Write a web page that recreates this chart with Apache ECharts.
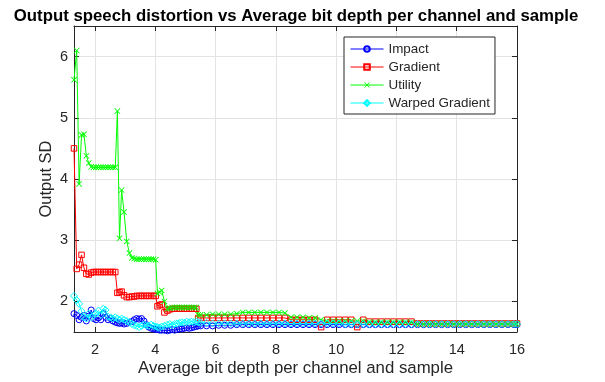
<!DOCTYPE html>
<html>
<head>
<meta charset="utf-8">
<script src="https://cdn.jsdelivr.net/npm/echarts@6/dist/echarts.min.js"></script>
<style>html,body{margin:0;padding:0;background:#fff}#c{width:605px;height:382px}</style>
</head>
<body>
<div id="c"></div>
<script>
var xValues = [
  1.30, 1.39, 1.47, 1.55, 1.63, 1.71, 1.79, 1.87, 1.95, 2.03,
  2.11, 2.19, 2.27, 2.35, 2.43, 2.51, 2.59, 2.67, 2.74, 2.81,
  2.88, 2.96, 3.05, 3.14, 3.22, 3.30, 3.38, 3.46, 3.54, 3.62,
  3.70, 3.78, 3.86, 3.94, 4.01, 4.07, 4.14, 4.21, 4.30, 4.40,
  4.48, 4.56, 4.64, 4.72, 4.80, 4.88, 4.96, 5.04, 5.12, 5.20,
  5.28, 5.36, 5.42, 5.50,
  5.7, 5.9, 6.1, 6.3, 6.5, 6.7, 6.9, 7.1, 7.3, 7.5,
  7.7, 7.9, 8.1, 8.3, 8.5, 8.7, 8.9, 9.1, 9.3, 9.5,
  9.7, 9.9, 10.1, 10.3, 10.5, 10.7, 10.9, 11.1, 11.3, 11.5,
  11.7, 11.9, 12.1, 12.3, 12.5, 12.7, 12.9, 13.1, 13.3, 13.5,
  13.7, 13.9, 14.1, 14.3, 14.5, 14.7, 14.9, 15.1, 15.3, 15.5,
  15.7, 15.9, 16.0
];
var impact = [
  1.80, 1.77, 1.70, 1.74, 1.77, 1.68, 1.76, 1.86, 1.72, 1.70,
  1.73, 1.70, 1.80, 1.74, 1.70, 1.72, 1.68, 1.66, 1.65, 1.64,
  1.65, 1.63, 1.64, 1.66, 1.67, 1.70, 1.72, 1.71, 1.72, 1.68,
  1.62, 1.58, 1.56, 1.55, 1.54, 1.54, 1.53, 1.53, 1.53, 1.52,
  1.53, 1.54, 1.53, 1.54, 1.55, 1.55, 1.56, 1.57, 1.56, 1.57,
  1.58, 1.59, 1.60, 1.60,
  1.60, 1.60, 1.61, 1.61, 1.61, 1.62, 1.62, 1.62, 1.62, 1.62,
  1.62, 1.62, 1.62, 1.62, 1.62, 1.62, 1.62, 1.62, 1.62, 1.62,
  1.62, 1.62, 1.62, 1.62, 1.62, 1.62, 1.62, 1.62, 1.62, 1.62,
  1.62, 1.62, 1.62, 1.62, 1.62, 1.62, 1.62, 1.62, 1.62, 1.62,
  1.62, 1.62, 1.62, 1.62, 1.62, 1.62, 1.62, 1.62, 1.62, 1.62,
  1.62, 1.62, 1.62
];
var gradient = [
  4.50, 2.53, 2.60, 2.76, 2.55, 2.45, 2.44, 2.47, 2.48, 2.48,
  2.48, 2.48, 2.48, 2.48, 2.48, 2.48, 2.48, 2.48, 2.14, 2.15,
  2.16, 2.10, 2.07, 2.07, 2.08, 2.08, 2.09, 2.09, 2.09, 2.09,
  2.09, 2.09, 2.09, 2.09, 2.09, 1.92, 1.94, 1.95, 1.82, 1.85,
  1.87, 1.88, 1.88, 1.88, 1.88, 1.88, 1.88, 1.88, 1.88, 1.88,
  1.88, 1.88, 1.73, 1.73,
  1.73, 1.73, 1.73, 1.73, 1.73, 1.73, 1.73, 1.73, 1.73, 1.73,
  1.73, 1.73, 1.73, 1.73, 1.70, 1.70, 1.70, 1.70, 1.70, 1.58,
  1.70, 1.70, 1.70, 1.70, 1.70, 1.58, 1.70, 1.67, 1.67, 1.67,
  1.67, 1.67, 1.67, 1.67, 1.67, 1.64, 1.64, 1.64, 1.64, 1.64,
  1.64, 1.64, 1.64, 1.64, 1.64, 1.64, 1.64, 1.64, 1.64, 1.64,
  1.64, 1.64, 1.64
];
var utility = [
  5.62, 6.10, 3.92, 4.72, 4.73, 4.38, 4.26, 4.20, 4.19, 4.19,
  4.19, 4.19, 4.19, 4.19, 4.19, 4.19, 4.19, 4.19, 5.11, 3.03,
  3.82, 3.46, 2.98, 2.79, 2.71, 2.70, 2.69, 2.69, 2.69, 2.69,
  2.69, 2.69, 2.69, 2.69, 2.68, 2.13, 2.15, 2.18, 2.00, 1.88,
  1.89, 1.90, 1.90, 1.90, 1.90, 1.90, 1.90, 1.90, 1.90, 1.90,
  1.90, 1.90, 1.78, 1.78,
  1.78, 1.79, 1.79, 1.79, 1.79, 1.80, 1.82, 1.82, 1.82, 1.82,
  1.82, 1.82, 1.82, 1.81, 1.74, 1.74, 1.74, 1.73, 1.73, 1.70,
  1.68, 1.68, 1.68, 1.68, 1.68, 1.68, 1.68, 1.66, 1.66, 1.66,
  1.66, 1.66, 1.66, 1.66, 1.66, 1.63, 1.63, 1.63, 1.63, 1.63,
  1.63, 1.63, 1.63, 1.63, 1.63, 1.63, 1.63, 1.63, 1.63, 1.63,
  1.63, 1.63, 1.63
];
var warpedGradient = [
  2.09, 2.02, 1.96, 1.84, 1.74, 1.72, 1.80, 1.74, 1.77, 1.80,
  1.85, 1.78, 1.88, 1.86, 1.75, 1.74, 1.72, 1.74, 1.72, 1.70,
  1.72, 1.70, 1.68, 1.66, 1.63, 1.61, 1.60, 1.58, 1.60, 1.62,
  1.61, 1.60, 1.62, 1.60, 1.59, 1.58, 1.57, 1.59, 1.60, 1.62,
  1.63, 1.61, 1.63, 1.64, 1.65, 1.66, 1.65, 1.67, 1.66, 1.67,
  1.66, 1.67, 1.66, 1.65,
  1.65, 1.64, 1.64, 1.64, 1.64, 1.64, 1.64, 1.64, 1.64, 1.64,
  1.64, 1.64, 1.64, 1.64, 1.64, 1.64, 1.64, 1.64, 1.64, 1.64,
  1.64, 1.64, 1.64, 1.63, 1.63, 1.63, 1.63, 1.63, 1.63, 1.63,
  1.63, 1.63, 1.63, 1.63, 1.63, 1.63, 1.63, 1.63, 1.63, 1.63,
  1.63, 1.63, 1.63, 1.63, 1.63, 1.63, 1.63, 1.63, 1.63, 1.63,
  1.63, 1.63, 1.63
];
var seriesNames = ['Impact', 'Gradient', 'Utility', 'Warped Gradient'];
var titleText = 'Output speech distortion vs Average bit depth per channel and sample';
var xName = 'Average bit depth per channel and sample';
var yName = 'Output SD';

function pairs(ys) { return xValues.map(function (x, i) { return [x, ys[i]]; }); }

var FONT = '"Liberation Sans", Arial, Helvetica, sans-serif';
var AX = '#262626';
var crossPath = 'path://M0,1L1,0L5,4L9,0L10,1L6,5L10,9L9,10L5,6L1,10L0,9L4,5Z';

var chart = echarts.init(document.getElementById('c'), null, {renderer: 'canvas'});
function mkSeries(name, ys, color, symbol, size, hollow) {
  return {
    name: name, type: 'line', data: pairs(ys),
    symbol: symbol, symbolSize: size,
    lineStyle: {color: color, width: 1},
    itemStyle: hollow ? {color: 'rgba(255,255,255,0)', borderColor: color, borderWidth: 1}
                      : {color: color, borderWidth: 0},
    animation: false, z: 3,
    emphasis: {disabled: true}
  };
}
chart.setOption({
  animation: false,
  backgroundColor: '#fff',
  textStyle: {fontFamily: FONT},
  title: {
    text: titleText, left: 291, top: 3, textAlign: 'center',
    textStyle: {fontFamily: FONT, fontSize: 16.8, fontWeight: 'bold', color: '#000'}
  },
  grid: {left: 74, top: 26, right: 88, bottom: 50, containLabel: false},
  legend: {
    orient: 'vertical', left: 344, top: 37,
    itemWidth: 33, itemHeight: 7, itemGap: 4,
    padding: [5, 5, 4, 6],
    backgroundColor: '#fff', borderColor: AX, borderWidth: 1,
    lineStyle: {width: 1},
    textStyle: {fontFamily: FONT, fontSize: 13.4, color: AX, lineHeight: 14},
    data: seriesNames
  },
  xAxis: [{
    type: 'value', min: 1.3, max: 16, splitNumber: 7,
    name: xName, nameLocation: 'middle', nameGap: 28, nameMoveOverlap: false,
    nameTextStyle: {fontFamily: FONT, fontSize: 16.8, color: AX},
    axisLine: {show: true, onZero: false, lineStyle: {color: AX, width: 1}},
    axisTick: {show: true, inside: true, length: 5, lineStyle: {color: AX}},
    axisLabel: {fontFamily: FONT, fontSize: 14.5, color: AX, margin: 10, showMinLabel: false},
    splitLine: {show: true, lineStyle: {color: '#e3e3e3', width: 1}}
  }, {
    type: 'value', min: 1.3, max: 16, splitNumber: 7, position: 'top',
    axisLine: {show: true, onZero: false, lineStyle: {color: AX, width: 1}},
    axisTick: {show: true, inside: true, length: 5, lineStyle: {color: AX}},
    axisLabel: {show: false}, splitLine: {show: false}
  }],
  yAxis: [{
    type: 'value', min: 1.5, max: 6.5, splitNumber: 5,
    name: yName, nameLocation: 'middle', nameGap: 19, nameRotate: 90, nameMoveOverlap: false,
    nameTextStyle: {fontFamily: FONT, fontSize: 16.5, color: AX},
    axisLine: {show: true, onZero: false, lineStyle: {color: AX, width: 1}},
    axisTick: {show: true, inside: true, length: 5, lineStyle: {color: AX}},
    axisLabel: {fontFamily: FONT, fontSize: 14.5, color: AX, margin: 6, showMinLabel: false, showMaxLabel: false},
    splitLine: {show: true, lineStyle: {color: '#e3e3e3', width: 1}}
  }, {
    type: 'value', min: 1.5, max: 6.5, splitNumber: 5, position: 'right',
    axisLine: {show: true, onZero: false, lineStyle: {color: AX, width: 1}},
    axisTick: {show: true, inside: true, length: 5, lineStyle: {color: AX}},
    axisLabel: {show: false}, splitLine: {show: false}
  }],
  series: [
    mkSeries(seriesNames[0], impact, '#0000ff', 'circle', 6, true),
    mkSeries(seriesNames[1], gradient, '#ff0000', 'rect', 5.5, true),
    mkSeries(seriesNames[2], utility, '#00ff00', crossPath, 6, false),
    mkSeries(seriesNames[3], warpedGradient, '#00ffff', 'diamond', 7, true)
  ]
});
</script>
</body>
</html>
